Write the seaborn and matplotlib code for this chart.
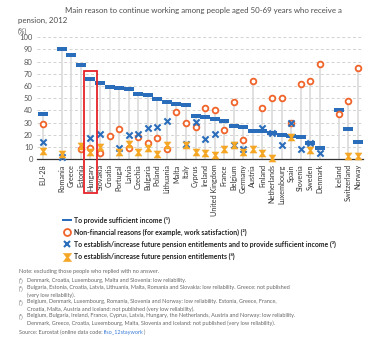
import numpy as np
import pandas as pd
import matplotlib
matplotlib.use("Agg")
import matplotlib.pyplot as plt
from matplotlib.lines import Line2D
from matplotlib.patches import Rectangle
from matplotlib.path import Path
import seaborn as sns

nan = np.nan
categories = ["EU-28", "", "Romania", "Greece", "Estonia", "Hungary", "Slovakia", "Croatia",
              "Portugal", "Latvia", "Czechia", "Bulgaria", "Poland", "Lithuania", "Malta", "Italy",
              "Cyprus", "Ireland", "United Kingdom", "France", "Belgium", "Germany", "Austria",
              "Finland", "Netherlands", "Luxembourg", "Spain", "Slovenia", "Sweden", "Denmark", "",
              "Iceland", "Switzerland", "Norway"]
income = [37.5, nan, 90.0, 85.5, 77.3, 65.5, 62.3, 59.3, 58.8, 57.5, 53.3, 52.5, 49.7, 46.8, 45.4,
          44.4, 35.6, 34.4, 32.9, 31.7, 27.3, 26.1, 23.4, 23.2, 21.3, 19.8, 19.1, 18.3, 13.5, 9.0,
          nan, 40.3, 25.0, 13.9]
nonfinancial = [28.8, nan, nan, nan, 8.3, 9.6, 5.5, 18.9, 25.0, 9.5, 18.0, 13.0, 17.8, 8.4, 38.8,
                29.5, 26.7, 41.8, 40.0, 24.0, 47.3, 16.2, 64.4, 41.8, 50.5, 50.5, 30.0, 62.0, 64.2,
                78.1, nan, 37.2, 47.8, 74.6]
both = [14.5, nan, 1.5, nan, nan, 17.2, 21.0, nan, 9.6, 20.0, 20.5, 25.4, 26.8, 31.7, nan, 12.3,
        30.5, 16.4, 20.6, nan, 11.7, 8.4, nan, 26.0, 21.3, 11.7, 30.0, 8.3, 13.6, 5.5, nan, nan,
        nan, nan]
pension = [6.5, nan, 4.4, nan, 11.2, 6.3, 9.8, nan, 6.3, 12.8, 6.3, 9.0, 4.0, 12.0, nan, 11.8, 6.2,
           5.2, 3.5, 8.6, 11.7, 6.3, 8.7, 5.4, 0.8, nan, 18.3, nan, 7.8, nan, nan, nan, 3.0, 3.0]
yticks = [0, 10, 20, 30, 40, 50, 60, 70, 80, 90, 100]
highlight = "Hungary"

BLUE = "#2a6ebb"
ORANGE = "#f0642a"
YELLOW = "#f5a623"
GREY = "#555555"

sns.set_theme(style="white")
plt.rcParams["font.family"] = ["Lato", "DejaVu Sans"]

df = pd.DataFrame({"cat": categories, "x": np.arange(len(categories)),
                   "income": income, "nonfin": nonfinancial, "both": both, "pension": pension})

fig = plt.figure(figsize=(3.75, 3.4), dpi=100)
ax = fig.add_axes([37 / 375, 1 - 159.3 / 340, (362.7 - 37) / 375, (159.3 - 37.3) / 340])

# stems
tops = df[["income", "nonfin", "both", "pension"]].max(axis=1)
valid = tops.notna()
ax.vlines(df.loc[valid, "x"], 0, tops[valid], color="#dadada", lw=1.2, zorder=1)

dash = Path([(-1, -0.3), (1, -0.3), (1, 0.3), (-1, 0.3), (-1, -0.3)],
            [Path.MOVETO, Path.LINETO, Path.LINETO, Path.LINETO, Path.CLOSEPOLY])
hourglass = Path([(-1, 1), (1, 1), (0.25, 0), (1, -1), (-1, -1), (-0.25, 0), (-1, 1)],
                 [Path.MOVETO, Path.LINETO, Path.LINETO, Path.LINETO, Path.LINETO, Path.LINETO,
                  Path.CLOSEPOLY])

sns.scatterplot(data=df, x="x", y="income", marker=dash, s=55, color=BLUE, edgecolor=BLUE,
                linewidth=0, ax=ax, zorder=3, clip_on=False)
sns.scatterplot(data=df, x="x", y="nonfin", marker="o", s=17, facecolor="white",
                edgecolor=ORANGE, linewidth=1.3, ax=ax, zorder=4, clip_on=False)
sns.scatterplot(data=df, x="x", y="both", marker="x", s=20, color=BLUE, linewidth=1.5,
                ax=ax, zorder=5, clip_on=False)
sns.scatterplot(data=df, x="x", y="pension", marker=hourglass, s=26, color=YELLOW,
                edgecolor=YELLOW, linewidth=0.3, ax=ax, zorder=6, clip_on=False)

ax.set_xlim(-0.6, len(categories) - 0.5)
ax.set_ylim(0, 100)
ax.set_yticks(yticks)
ax.set_yticklabels([str(v) for v in yticks], fontsize=5.5, color=GREY)
ax.set_xticks(df["x"])
ax.set_xticklabels(categories, rotation=90, fontsize=5.2, color="#333333")
ax.set_xticks(np.arange(-0.5, len(categories) - 0.4, 1.0), minor=True)
ax.tick_params(axis="x", which="major", length=0, pad=3.5)
ax.tick_params(axis="x", which="minor", length=5, width=0.8, color="#333333", direction="out")
ax.tick_params(axis="y", length=0, pad=3)
for v in yticks[1:]:
    ax.axhline(v, color="#d2d2d2", lw=0.7, ls=(0, (3, 2.5)), zorder=0)
for s in ["top", "right", "left"]:
    ax.spines[s].set_visible(False)
ax.spines["bottom"].set_color("#333333")
ax.spines["bottom"].set_linewidth(0.9)
ax.set_xlabel("")
ax.set_ylabel("")

hi = categories.index(highlight)
ax.add_patch(Rectangle((hi - 0.66, -28), 1.36, 100, fill=False, edgecolor="#e52329", lw=1.3,
                       clip_on=False, zorder=7))

# title
fig.text(65 / 375, 1 - 10 / 340, "Main reason to continue working among people aged 50-69 years who receive a",
         fontsize=5.7, color="#4d4d4d", va="center", ha="left")
fig.text(18 / 375, 1 - 20 / 340, "pension, 2012", fontsize=5.7, color="#4d4d4d", va="center", ha="left")
fig.text(18 / 375, 1 - 31 / 340, "(%)", fontsize=5.0, color=GREY, va="center", ha="left")

# legend
legend_rows = [
    ("To provide sufficient income (\u00b9)", dict(marker=dash, markersize=7, color=BLUE, mec=BLUE, mew=0)),
    ("Non-financial reasons (for example, work satisfaction) (\u00b2)",
     dict(marker="o", markersize=5, mfc="white", mec=ORANGE, mew=1.3)),
    ("To establish/increase future pension entitlements and to provide sufficient income (\u00b3)",
     dict(marker="x", markersize=5, mec=BLUE, mew=1.5)),
    ("To establish/increase future pension entitlements (\u2074)",
     dict(marker=hourglass, markersize=6, mfc=YELLOW, mec=YELLOW, mew=0.3)),
]
row_y = [220, 232.2, 244.4, 256.7]
for (label, mk), yy in zip(legend_rows, row_y):
    fig.add_artist(Line2D([67 / 375], [1 - yy / 340], transform=fig.transFigure, ls="none", **mk))
    fig.text(73.5 / 375, 1 - yy / 340, label, fontsize=4.95, fontweight="bold", color="#222222",
             va="center", ha="left")

NOTE_FS = 4.0
notes = [
    (19, 271.7, "Note: excluding those people who replied with no answer."),
    (19, 280.7, "(\u00b9)"), (26.7, 280.7, "Denmark, Croatia, Luxembourg, Malta and Slovenia: low reliability."),
    (19, 287.8, "(\u00b2)"), (26.7, 287.8, "Bulgaria, Estonia, Croatia, Latvia, Lithuania, Malta, Romania and Slovakia: low reliability. Greece: not published"),
    (26.7, 294.8, "(very low reliability)."),
    (19, 301.8, "(\u00b3)"), (26.7, 301.8, "Belgium, Denmark, Luxembourg, Romania, Slovenia and Norway: low reliability. Estonia, Greece, France,"),
    (26.7, 308.8, "Croatia, Malta, Austria and Iceland: not published (very low reliability)."),
    (19, 315.8, "(\u2074)"), (26.7, 315.8, "Belgium, Bulgaria, Ireland, France, Cyprus, Latvia, Hungary, the Netherlands, Austria and Norway: low reliability."),
    (26.7, 322.8, "Denmark, Greece, Croatia, Luxembourg, Malta, Slovenia and Iceland: not published (very low reliability)."),
]
for xx, yy, t in notes:
    fig.text(xx / 375, 1 - yy / 340, t, fontsize=NOTE_FS, color="#666666", va="center", ha="left")
src = fig.text(19 / 375, 1 - 332.7 / 340, "Source: Eurostat (online data code: ", fontsize=NOTE_FS,
               color="#666666", va="center", ha="left")
fig.canvas.draw()
bb = src.get_window_extent()
code = fig.text(bb.x1 / fig.bbox.width, 1 - 332.7 / 340, "lfso_12staywork", fontsize=NOTE_FS,
                color="#3a7bd5", va="center", ha="left")
fig.canvas.draw()
bb2 = code.get_window_extent()
fig.text(bb2.x1 / fig.bbox.width, 1 - 332.7 / 340, ")", fontsize=NOTE_FS, color="#666666",
         va="center", ha="left")

fig.savefig("out.png", dpi=100)
